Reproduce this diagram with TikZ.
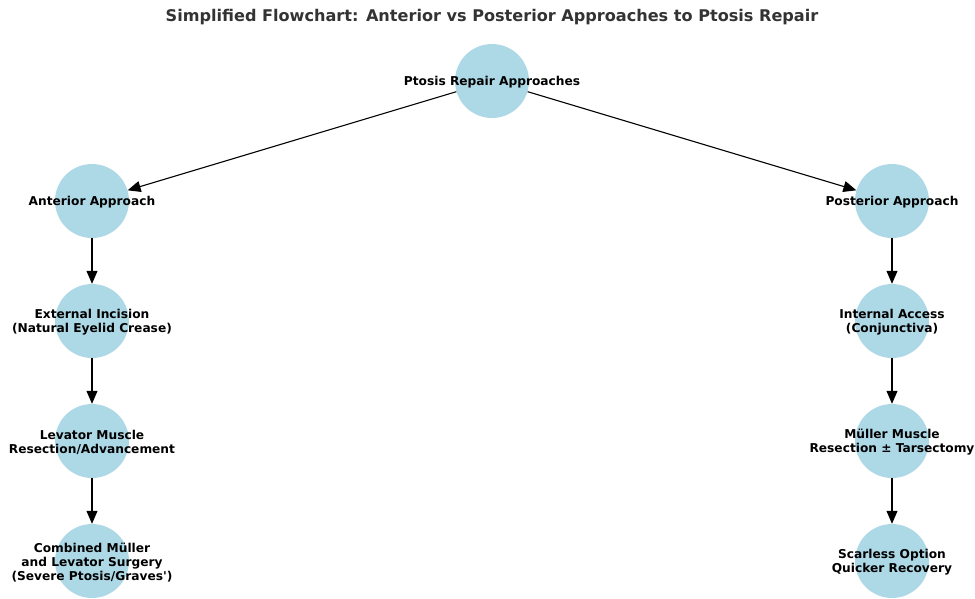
\documentclass[tikz,border=0pt]{standalone}
\usepackage{fontspec}
\setmainfont{DejaVu Sans}
\usetikzlibrary{arrows.meta}

\definecolor{bubblefill}{HTML}{ADD8E6}
\definecolor{titlegray}{HTML}{333333}

\tikzset{
  bubble/.style={circle,fill=bubblefill,inner sep=0pt,minimum size=74pt},
  caption/.style={align=center,yshift=-1.2pt,font=\fontsize{12.2}{14}\selectfont\bfseries},
  flow/.style={line width=1.1pt,-{Triangle[length=13pt,width=11pt]}}
}

\begin{document}
\begin{tikzpicture}[x=1pt,y=-1pt]
            \useasboundingbox (0,0) rectangle (975,599);
            \node[font=\fontsize{16.1}{18}\selectfont\bfseries,text=titlegray] (title) at (492,17) {Simplified Flowchart: Anterior vs Posterior Approaches to Ptosis Repair};
            % top
            \node[bubble,label={[caption]center:Ptosis Repair Approaches}] (root) at (492,81) {};
            % anterior side
            \node[bubble,label={[caption]center:Anterior Approach}] (ant) at (92,201) {};
            \node[bubble,label={[caption]center:External Incision\\(Natural Eyelid Crease)}] (ext) at (92,321) {};
            \node[bubble,label={[caption]center:Levator Muscle\\Resection/Advancement}] (lev) at (92,441) {};
            \node[bubble,label={[caption]center:Combined Müller\\and Levator Surgery\\(Severe Ptosis/Graves\textquotesingle)}] (comb) at (92,561) {};
            % posterior side
            \node[bubble,label={[caption]center:Posterior Approach}] (post) at (892,201) {};
            \node[bubble,label={[caption]center:Internal Access\\(Conjunctiva)}] (int) at (892,321) {};
            \node[bubble,label={[caption]center:Müller Muscle\\Resection ± Tarsectomy}] (mul) at (892,441) {};
            \node[bubble,label={[caption]center:Scarless Option\\Quicker Recovery}] (scar) at (892,561) {};
            \draw[flow] (root) -- (ant);
            \draw[flow] (root) -- (post);
            \foreach \a/\b in {ant/ext,ext/lev,lev/comb,post/int,int/mul,mul/scar}
                \draw[flow] (\a) -- (\b);
        \end{tikzpicture}
\end{document}
